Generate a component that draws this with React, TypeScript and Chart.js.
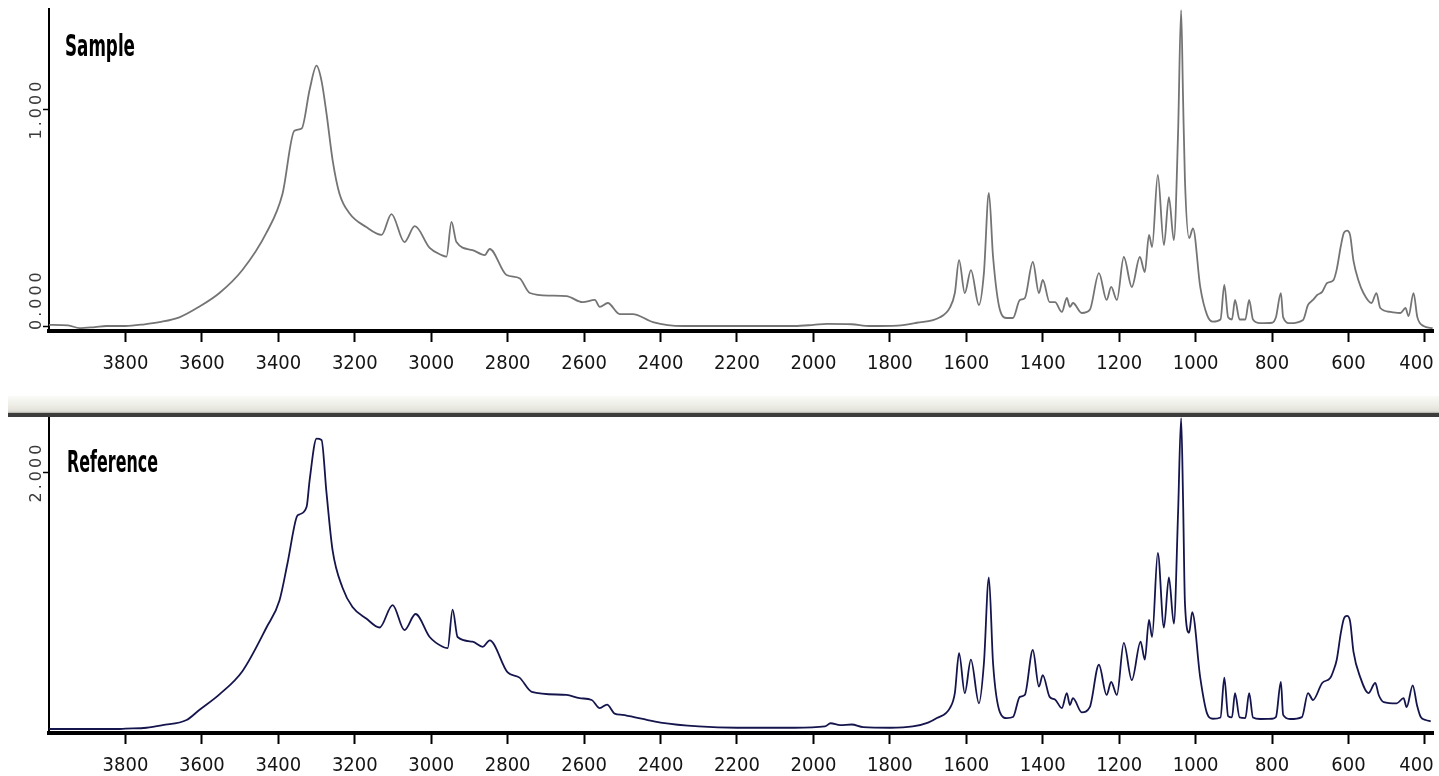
import React, { useEffect, useRef } from 'react';
import { Chart, registerables } from 'chart.js';

Chart.register(...registerables);

// ---------- data ----------
const sampleWavenumbers = [
  4000, 3950, 3920, 3880, 3850, 3800, 3750, 3711, 3659, 3606, 3554, 3494, 3431, 3389, 3358, 3339, 3318, 3300, 3287, 3274,
  3258, 3240, 3214, 3170, 3130, 3104, 3070, 3043, 3004, 2973, 2960, 2947, 2934, 2892, 2860, 2847, 2803, 2769, 2742, 2690,
  2646, 2604, 2572, 2559, 2538, 2507, 2473, 2420, 2342, 2200, 2050, 2000, 1965, 1900, 1852, 1780, 1730, 1669, 1643, 1630,
  1619, 1604, 1588, 1567, 1554, 1541, 1530, 1512, 1494, 1478, 1460, 1447, 1426, 1410, 1400, 1382, 1368, 1350, 1337, 1329,
  1321, 1298, 1277, 1253, 1233, 1221, 1206, 1188, 1167, 1146, 1133, 1122, 1114, 1099, 1083, 1070, 1057, 1046, 1038, 1033,
  1028, 1017, 1007, 988, 970, 955, 935, 925, 915, 905, 897, 885, 870, 860, 850, 831, 800, 790, 777, 771,
  753, 719, 706, 693, 682, 669, 656, 640, 631, 620, 612, 604, 596, 587, 574, 561, 540, 527, 517, 490,
  464, 451, 443, 430, 420, 404, 380,
];
const sampleAbsorbance = [
  0.005, 0.003, -0.01, -0.005, 0.0, 0.0, 0.008, 0.018, 0.04, 0.09, 0.152, 0.258, 0.43, 0.61, 0.9, 0.91, 1.09, 1.2, 1.13, 0.98,
  0.765, 0.61, 0.52, 0.456, 0.42, 0.516, 0.387, 0.46, 0.36, 0.327, 0.32, 0.48, 0.387, 0.35, 0.327, 0.355, 0.235, 0.22, 0.152, 0.14,
  0.138, 0.11, 0.12, 0.088, 0.106, 0.055, 0.055, 0.018, 0.0, 0.0, 0.0, 0.005, 0.01, 0.008, 0.0, 0.002, 0.015, 0.04, 0.085, 0.152,
  0.304, 0.152, 0.258, 0.097, 0.244, 0.613, 0.318, 0.074, 0.037, 0.037, 0.12, 0.129, 0.295, 0.152, 0.212, 0.11, 0.11, 0.065, 0.129, 0.088,
  0.106, 0.06, 0.074, 0.244, 0.12, 0.18, 0.12, 0.318, 0.18, 0.318, 0.249, 0.42, 0.364, 0.696, 0.373, 0.594, 0.396, 0.889, 1.456, 1.055,
  0.673, 0.405, 0.45, 0.18, 0.05, 0.02, 0.03, 0.19, 0.04, 0.03, 0.12, 0.03, 0.03, 0.12, 0.03, 0.013, 0.015, 0.04, 0.152, 0.04,
  0.013, 0.028, 0.097, 0.12, 0.143, 0.157, 0.198, 0.21, 0.26, 0.37, 0.43, 0.44, 0.42, 0.3, 0.21, 0.152, 0.106, 0.152, 0.083, 0.065,
  0.06, 0.083, 0.046, 0.152, 0.041, 0.0, -0.01,
];

const referenceWavenumbers = [
  4000, 3900, 3820, 3800, 3745, 3703, 3640, 3606, 3554, 3494, 3431, 3397, 3376, 3352, 3345, 3326, 3318, 3300, 3287, 3274,
  3258, 3232, 3206, 3170, 3135, 3101, 3070, 3041, 3004, 2970, 2957, 2944, 2931, 2892, 2865, 2847, 2800, 2769, 2737, 2646,
  2612, 2580, 2559, 2540, 2520, 2500, 2450, 2400, 2300, 2200, 2050, 1970, 1955, 1930, 1900, 1870, 1800, 1740, 1700, 1677,
  1643, 1630, 1619, 1604, 1588, 1567, 1554, 1541, 1530, 1512, 1494, 1478, 1460, 1447, 1426, 1410, 1400, 1382, 1368, 1350,
  1337, 1329, 1321, 1298, 1277, 1253, 1233, 1221, 1206, 1188, 1167, 1144, 1133, 1122, 1114, 1099, 1083, 1070, 1057, 1046,
  1038, 1033, 1028, 1017, 1009, 988, 970, 955, 935, 925, 915, 905, 897, 885, 870, 860, 850, 831, 800, 790,
  777, 771, 753, 722, 706, 693, 669, 648, 640, 631, 620, 612, 604, 596, 587, 569, 548, 530, 521, 508,
  474, 456, 448, 432, 421, 411, 398, 385,
];
const referenceAbsorbance = [
  0.0, 0.0, 0.0, 0.003, 0.01, 0.03, 0.07, 0.15, 0.27, 0.45, 0.79, 1.0, 1.29, 1.65, 1.67, 1.73, 1.94, 2.26, 2.25, 1.84,
  1.39, 1.1, 0.95, 0.86, 0.79, 0.965, 0.77, 0.895, 0.716, 0.64, 0.63, 0.93, 0.716, 0.68, 0.64, 0.69, 0.44, 0.4, 0.29, 0.265,
  0.24, 0.226, 0.163, 0.19, 0.12, 0.11, 0.08, 0.05, 0.02, 0.01, 0.01, 0.02, 0.045, 0.03, 0.035, 0.015, 0.01, 0.02, 0.05, 0.085,
  0.163, 0.28, 0.59, 0.28, 0.54, 0.2, 0.51, 1.18, 0.51, 0.13, 0.085, 0.093, 0.25, 0.265, 0.615, 0.33, 0.42, 0.25, 0.23, 0.163,
  0.28, 0.187, 0.24, 0.13, 0.17, 0.5, 0.265, 0.366, 0.265, 0.67, 0.38, 0.68, 0.54, 0.85, 0.716, 1.37, 0.79, 1.18, 0.82, 1.68,
  2.42, 1.8, 0.98, 0.75, 0.91, 0.4, 0.12, 0.08, 0.09, 0.4, 0.1, 0.09, 0.28, 0.09, 0.085, 0.28, 0.09, 0.078, 0.08, 0.093,
  0.366, 0.11, 0.078, 0.093, 0.28, 0.226, 0.358, 0.397, 0.45, 0.537, 0.75, 0.86, 0.88, 0.84, 0.6, 0.4, 0.28, 0.358, 0.265, 0.21,
  0.2, 0.24, 0.17, 0.34, 0.187, 0.093, 0.07, 0.06,
];

const xTickValues = [3800, 3600, 3400, 3200, 3000, 2800, 2600, 2400, 2200, 2000, 1800, 1600, 1400, 1200, 1000, 800, 600, 400];
const sampleYTicks = [0, 1];
const referenceYTicks = [2];

// ---------- plugins ----------
const TITLE_FONT = '"Liberation Sans Narrow", "DejaVu Sans Condensed", "Liberation Sans", Arial, sans-serif';

const panelTitlePlugin = {
  id: 'panelTitle',
  afterDraw(chart: any, _args: any, opts: any) {
    if (!opts || !opts.text) return;
    const ctx = chart.ctx;
    ctx.save();
    ctx.font = `bold ${opts.size}px ${TITLE_FONT}`;
    ctx.fillStyle = '#000';
    ctx.textBaseline = 'alphabetic';
    ctx.textAlign = 'left';
    const w = ctx.measureText(opts.text).width;
    const sx = opts.width / w;
    ctx.translate(opts.x, opts.y);
    ctx.scale(sx, 1);
    ctx.fillText(opts.text, 0, 0);
    ctx.restore();
  },
};

const rotatedYLabelsPlugin = {
  id: 'rotatedYLabels',
  afterDraw(chart: any, _args: any, opts: any) {
    const s = chart.scales.y;
    const ctx = chart.ctx;
    const area = chart.chartArea;
    ctx.save();
    ctx.font = `16px "DejaVu Sans", Verdana, sans-serif`;
    (ctx as any).letterSpacing = '3px';
    ctx.fillStyle = '#3a3a3a';
    ctx.textAlign = 'center';
    ctx.textBaseline = 'middle';
    s.ticks.forEach((t: any) => {
      const label = String(t.label);
      const p = s.getPixelForValue(t.value);
      const w = ctx.measureText(label).width;
      const c = Math.min(p, area.bottom - 1 - w / 2);
      ctx.save();
      ctx.translate(opts.x, c);
      ctx.rotate(-Math.PI / 2);
      ctx.fillText(label, 0, 0);
      ctx.restore();
    });
    ctx.restore();
  },
};

// ---------- panel ----------
type PanelProps = {
  top: number;
  height: number;
  areaTop: number;
  areaBottom: number;
  title: string;
  titleX: number;
  titleY: number;
  titleWidth: number;
  xs: number[];
  ys: number[];
  yTicks: number[];
  yMin: number;
  yMax: number;
  color: string;
};

function SpectrumPanel(props: PanelProps) {
  const ref = useRef<HTMLCanvasElement>(null);
  useEffect(() => {
    const canvas = ref.current;
    if (!canvas) return;
    const {
      height, areaTop, areaBottom, title, titleX, titleY, titleWidth, xs, ys, yTicks, yMin, yMax, color,
    } = props;
    const chart = new Chart(canvas, {
      type: 'line',
      data: {
        datasets: [
          {
            data: xs.map((x, i) => ({ x, y: ys[i] })),
            borderColor: color,
            borderWidth: 1.8,
            pointRadius: 0,
            cubicInterpolationMode: 'monotone',
            fill: false,
          },
        ],
      },
      options: {
        animation: false,
        responsive: false,
        maintainAspectRatio: false,
        devicePixelRatio: 1,
        events: [],
        layout: { padding: { left: 0, right: 6, top: areaTop, bottom: 0 } },
        plugins: {
          legend: { display: false },
          tooltip: { enabled: false },
          title: { display: false },
          panelTitle: { text: title, x: titleX, y: titleY, width: titleWidth, size: 31 },
          rotatedYLabels: { x: 36.5 },
        } as any,
        scales: {
          x: {
            type: 'linear',
            reverse: true,
            min: 379,
            max: 4000,
            afterBuildTicks: (s: any) => {
              s.ticks = xTickValues.map((v) => ({ value: v }));
            },
            afterFit: (s: any) => {
              s.height = height - areaBottom;
              s.paddingLeft = 0;
              s.paddingRight = 0;
            },
            ticks: {
              autoSkip: false,
              maxRotation: 0,
              minRotation: 0,
              padding: 10,
              color: '#151515',
              font: { family: TITLE_FONT, size: 20, lineHeight: 1.2 },
              callback: (v: any) => (Number(v) === 400 ? '400   ' : String(v)),
            },
            grid: {
              drawOnChartArea: false,
              drawTicks: true,
              tickLength: 11,
              tickWidth: 2,
              tickColor: '#000',
            },
            border: { display: true, width: 4, color: '#000' },
          },
          y: {
            type: 'linear',
            min: yMin,
            max: yMax,
            afterBuildTicks: (s: any) => {
              s.ticks = yTicks.map((v) => ({ value: v }));
            },
            afterFit: (s: any) => {
              s.width = 49;
            },
            ticks: {
              display: false,
              callback: (v: any) => Number(v).toFixed(3),
            },
            grid: {
              drawOnChartArea: false,
              drawTicks: true,
              tickLength: 6,
              tickWidth: 1.5,
              tickColor: '#000',
            },
            border: { display: true, width: 2, color: '#000' },
          },
        },
      } as any,
      plugins: [panelTitlePlugin, rotatedYLabelsPlugin],
    });
    return () => chart.destroy();
  }, []);
  return (
    <canvas
      ref={ref}
      width={1439}
      height={props.height}
      style={{ position: 'absolute', left: 0, top: props.top, width: 1439, height: props.height, display: 'block' }}
    />
  );
}

export default function App() {
  return (
    <div
      style={{
        position: 'absolute',
        left: 0,
        top: 0,
        width: 1439,
        height: 776,
        overflow: 'hidden',
        background: '#fff',
      }}
    >
      <SpectrumPanel
        top={0}
        height={395}
        areaTop={9}
        areaBottom={331}
        title="Sample"
        titleX={65}
        titleY={56}
        titleWidth={70}
        xs={sampleWavenumbers}
        ys={sampleAbsorbance}
        yTicks={sampleYTicks}
        yMin={-0.023}
        yMax={1.461}
        color="#747474"
      />
      <SpectrumPanel
        top={400}
        height={376}
        areaTop={15}
        areaBottom={333}
        title="Reference"
        titleX={67}
        titleY={72}
        titleWidth={91}
        xs={referenceWavenumbers}
        ys={referenceAbsorbance}
        yTicks={referenceYTicks}
        yMin={-0.031}
        yMax={2.444}
        color="#15154d"
      />
      <div
        style={{
          position: 'absolute',
          left: 8,
          top: 396,
          width: 1431,
          height: 21,
          background:
            'linear-gradient(to bottom, #fafaf7 0%, #efefe9 40%, #e2e1d9 70%, #cfcec6 78%, #3c3c3c 82%, #3c3c3c 100%)',
          zIndex: 2,
        }}
      />
    </div>
  );
}
